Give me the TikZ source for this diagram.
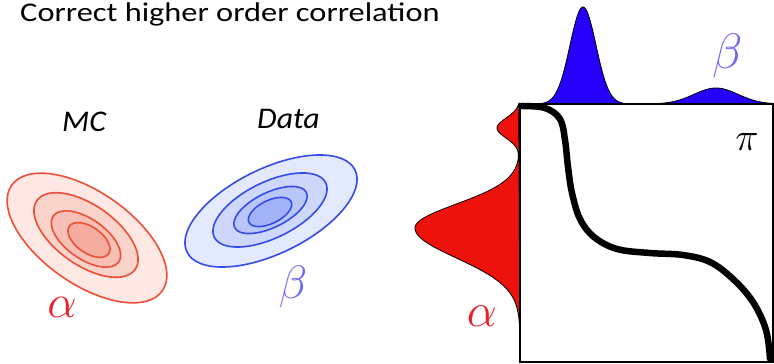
\documentclass[tikz,border=0pt]{standalone}
\usepackage{fontspec}
\setmainfont{Carlito}
\definecolor{redline}{RGB}{238,78,56}
\definecolor{rA}{RGB}{253,232,228}
\definecolor{rB}{RGB}{250,212,202}
\definecolor{rC}{RGB}{248,192,180}
\definecolor{rD}{RGB}{245,172,158}
\definecolor{blueline}{RGB}{55,75,236}
\definecolor{bA}{RGB}{228,234,253}
\definecolor{bB}{RGB}{206,216,252}
\definecolor{bC}{RGB}{184,198,250}
\definecolor{bD}{RGB}{163,178,248}
\definecolor{alphared}{RGB}{236,32,42}
\definecolor{betablue}{RGB}{112,104,248}
\definecolor{margblue}{RGB}{36,0,250}
\definecolor{margred}{RGB}{238,18,12}
\begin{document}
\begin{tikzpicture}[x=1pt,y=-1pt,
  redell/.style={draw=redline, line width=1.6pt},
  blueell/.style={draw=blueline, line width=1.6pt},
  marg/.style={draw=black, line width=0.8pt},
  lbl/.style={inner sep=0pt},
  sym/.style={inner sep=0pt, font=\fontsize{20}{20}\selectfont, scale=#1/20},
  declare function={
    sr(\t)=(\t<228)*24+(\t>=228)*30;
    gs(\t,\m,\s)=exp(-min(30,((\t-\m)/\s)*((\t-\m)/\s)/2));
  }]
\useasboundingbox (0,0) rectangle (774,364);
% title and labels
\node[lbl, anchor=base west, xscale=1.2, font=\fontsize{27}{27}\selectfont] (title) at (20,21) {Correct higher order correlation};
\node[lbl, anchor=base west, xscale=1.06, font=\itshape\fontsize{30}{30}\selectfont] (mc) at (62,131) {MC};
\node[lbl, anchor=base west, xscale=1.06, font=\itshape\fontsize{30}{30}\selectfont] (data) at (257,128) {Data};
% red ellipses (MC)
\draw[redell, fill=rA, rotate around={-35:(87,238)}] (87,238) ellipse [x radius=92pt, y radius=46pt];
\draw[redell, fill=rB, rotate around={-35:(86,235)}] (86,235) ellipse [x radius=60pt, y radius=30pt];
\draw[redell, fill=rC, rotate around={-35:(86,239)}] (86,239) ellipse [x radius=40pt, y radius=20pt];
\draw[redell, fill=rD, rotate around={-35:(89,240)}] (89,240) ellipse [x radius=24pt, y radius=13pt];
% blue ellipses (Data)
\draw[blueell, fill=bA, rotate around={26:(271,211)}] (271,211) ellipse [x radius=93.5pt, y radius=42.5pt];
\draw[blueell, fill=bB, rotate around={26:(270,210)}] (270,210) ellipse [x radius=62pt, y radius=28pt];
\draw[blueell, fill=bC, rotate around={26:(270.5,210)}] (270.5,210) ellipse [x radius=40pt, y radius=17.5pt];
\draw[blueell, fill=bD, rotate around={26:(270,212)}] (270,212) ellipse [x radius=23.5pt, y radius=11.5pt];
\node[sym=45, text=alphared] (alphaL) at (62,307) {$\alpha$};
\node[sym=45, text=betablue] (betaL) at (293,287) {$\beta$};
% marginals
\draw[marg, fill=margblue] plot[domain=520:773, samples=220]
  (\x, {104 - 97*gs(\x,583,13) - 16*gs(\x,716,22)}) -- cycle;
\draw[marg, fill=margred] plot[domain=104:362, samples=220]
  ({520 - 23*gs(\x,128,10) - 105*gs(\x,228,sr(\x))}, \x) -- cycle;
% coupling box
\draw[line width=1.3pt] (520,104) rectangle (773,362);
\draw[line width=6.5pt, line cap=round, line join=round] plot[smooth, tension=0.6] coordinates
  {(522,106) (545,108) (560,119) (565,140) (568,167) (572,193) (580,219) (594,237) (617,249) (650,253) (683,255) (710,262) (733,279) (753,302) (766,330) (770,359)};
\node[sym=38] (pi) at (747,142) {$\pi$};
\node[sym=46, text=alphared] (alphaR) at (482,316) {$\alpha$};
\node[sym=48, text=betablue] (betaR) at (728,56) {$\beta$};
\end{tikzpicture}
\end{document}
